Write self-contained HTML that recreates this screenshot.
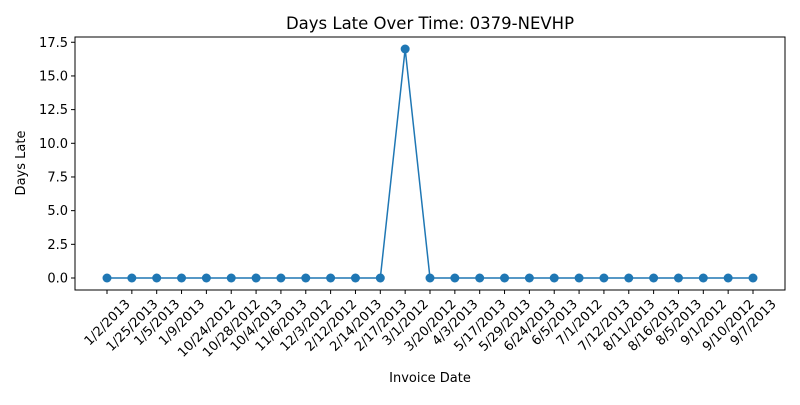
<!DOCTYPE html>
<html><head><meta charset="utf-8"><style>body{margin:0;background:#fff}svg{font-family:"DejaVu Sans","Liberation Sans",sans-serif}</style></head>
<body>
<svg id="c" width="800" height="400" xmlns="http://www.w3.org/2000/svg"></svg>
<script>
const categories=["1/2/2013","1/25/2013","1/5/2013","1/9/2013","10/24/2012","10/28/2012","10/4/2013","11/6/2013","12/3/2012","2/12/2012","2/14/2013","2/17/2013","3/1/2012","3/20/2012","4/3/2013","5/17/2013","5/29/2013","6/24/2013","6/5/2013","7/1/2012","7/12/2013","8/11/2013","8/16/2013","8/5/2013","9/1/2012","9/10/2012","9/7/2013"];
const daysLate=[0,0,0,0,0,0,0,0,0,0,0,0,17,0,0,0,0,0,0,0,0,0,0,0,0,0,0];
const yTicks=[0,2.5,5,7.5,10,12.5,15,17.5];
const L=75,R=785,T=37,B=290;
const svg=document.getElementById('c');const NS="http://www.w3.org/2000/svg";
function el(t,a,txt){const e=document.createElementNS(NS,t);for(const k in a)e.setAttribute(k,a[k]);if(txt!==undefined)e.textContent=txt;svg.appendChild(e);return e;}
const x=i=>107+i*(753-107)/(categories.length-1);
const y=v=>278-v*(229/17);
let e;
e=el('text',{x:430,y:29,'font-size':16.5,'text-anchor':'middle'},'Days Late Over Time: 0379-NEVHP');


e=el('rect',{x:L,y:T,width:R-L,height:B-T,fill:'none',stroke:'#000','stroke-width':1});


yTicks.forEach(v=>{
 el('line',{x1:L-4,x2:L,y1:y(v),y2:y(v),stroke:'#000'});
 e=el('text',{x:L-7,y:y(v)+4.5,'font-size':13,'text-anchor':'end'},v.toFixed(1));
 
 
});
categories.forEach((c,i)=>{
 el('line',{x1:x(i),x2:x(i),y1:B,y2:B+4,stroke:'#000'});
 e=el('text',{'font-size':13,'text-anchor':'middle'},c);
 
 
 const w=e.getComputedTextLength(),h=13;
 const cy=B+7+(w+h)*0.7071/2;
 e.setAttribute('x',x(i));e.setAttribute('y',cy+4.5);
 e.setAttribute('transform',`rotate(-45 ${x(i)} ${cy})`);
});
e=el('text',{x:430,y:382,'font-size':13,'text-anchor':'middle'},'Invoice Date');


e=el('text',{x:25,y:163,'font-size':13,'text-anchor':'middle',transform:'rotate(-90 25 163)'},'Days Late');


e=el('polyline',{points:daysLate.map((v,i)=>x(i)+','+y(v)).join(' '),fill:'none',stroke:'#1f77b4','stroke-width':1.5});


daysLate.forEach((v,i)=>{
 e=el('circle',{cx:x(i),cy:y(v),r:4.5,fill:'#1f77b4'});
 
 
});
</script>
</body></html>
